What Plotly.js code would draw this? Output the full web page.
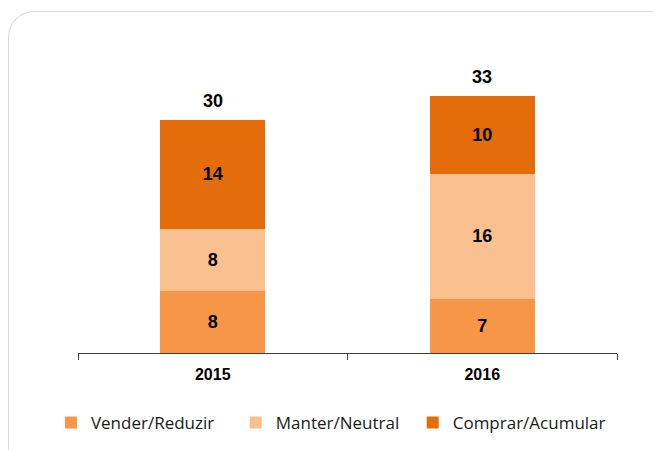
<!DOCTYPE html>
<html>
<head>
<meta charset="utf-8">
<script src="https://cdn.plot.ly/plotly-3.0.1.min.js"></script>
<style>
    html, body { margin: 0; padding: 0; background: #fff; overflow: hidden; }
    #frame {
        position: absolute; left: 8px; top: 11px;
        width: 680px; height: 520px;
        border: 1.5px solid #d9d9d9; border-radius: 26px;
    }
    #myDiv { position: absolute; left: 0; top: 0; width: 653px; height: 450px; }
</style>
</head>
<body>
<div id="frame"></div>
<div id="myDiv"></div>
<script>
// Data
var years = ['2015', '2016'];
var vender = [8, 7];
var manter = [8, 16];
var comprar = [14, 10];
var seriesNames = ['Vender/Reduzir', 'Manter/Neutral', 'Comprar/Acumular'];
var seriesColors = ['#F79646', '#FAC090', '#E46C0A'];

var totals = years.map(function(y, i) { return vender[i] + manter[i] + comprar[i]; });

var labelFont = { family: 'Liberation Sans, Arial, sans-serif', size: 18, color: '#000' };
var legendIds = ['legend', 'legend2', 'legend3'];
var legendX = [0.078, 0.361, 0.632];

function makeTrace(vals, idx) {
    return {
        type: 'bar',
        x: years,
        y: vals,
        name: seriesNames[idx],
        legend: legendIds[idx],
        marker: { color: seriesColors[idx] },
        texttemplate: '<b>%{y}</b>',
        textposition: 'inside',
        insidetextanchor: 'middle',
        textfont: labelFont,
        constraintext: 'none',
        hoverinfo: 'x+y+name'
    };
}

var data = [makeTrace(vender, 0), makeTrace(manter, 1), makeTrace(comprar, 2)];

// Totals on top of each stack (x by category index, since the names look numeric)
var annotations = years.map(function(y, i) {
    return {
        x: i, y: totals[i],
        xref: 'x', yref: 'y',
        text: '<b>' + totals[i] + '</b>',
        showarrow: false,
        yanchor: 'bottom',
        yshift: 7,
        font: labelFont
    };
});

function legendAt(x) {
    return {
        orientation: 'h',
        xref: 'container', yref: 'container',
        x: x, xanchor: 'left',
        y: 0.06, yanchor: 'middle',
        bgcolor: 'rgba(0,0,0,0)',
        font: { family: 'Open Sans, sans-serif', size: 17, color: '#1a1a1a' }
    };
}

var layout = {
    width: 653,
    height: 450,
    margin: { l: 78, r: 36, t: 42, b: 97 },
    paper_bgcolor: 'rgba(0,0,0,0)',
    plot_bgcolor: 'rgba(0,0,0,0)',
    barmode: 'stack',
    bargap: 0.61,
    showlegend: true,
    legend: legendAt(legendX[0]),
    legend2: legendAt(legendX[1]),
    legend3: legendAt(legendX[2]),
    xaxis: {
        type: 'category',
        showline: true,
        linecolor: '#404040',
        linewidth: 1,
        ticks: 'outside',
        tickson: 'boundaries',
        ticklen: 6,
        tickcolor: '#404040',
        ticklabelstandoff: 7,
        tickfont: { family: 'Liberation Sans, Arial, sans-serif', size: 16, color: '#000', weight: 'bold' },
        showgrid: false,
        zeroline: false
    },
    yaxis: {
        range: [0, 40],
        visible: false,
        showgrid: false,
        zeroline: false
    },
    annotations: annotations
};

Plotly.newPlot('myDiv', data, layout, { displayModeBar: false, staticPlot: true });
</script>
</body>
</html>
